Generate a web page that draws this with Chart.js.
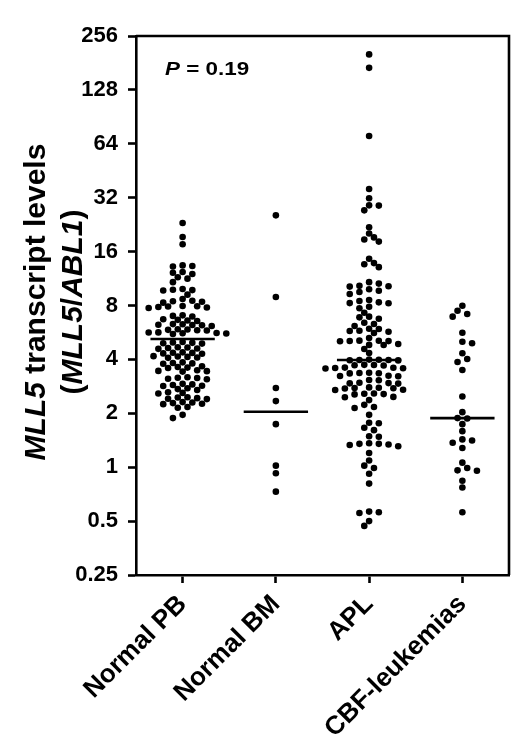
<!DOCTYPE html>
<html>
<head>
<meta charset="utf-8">
<script src="https://cdn.jsdelivr.net/npm/chart.js@4.4.1/dist/chart.umd.min.js"></script>
<style>
  html, body { margin: 0; padding: 0; background: #fff; }
</style>
</head>
<body>
<canvas id="dotplot" width="520" height="754"></canvas>
<script>
// categories and values (MLL5/ABL1 ratio)
const groups = ["Normal PB", "Normal BM", "APL", "CBF-leukemias"];

const normalPB = [
  23.1, 19.3, 17.6,
  13.3, 13.2, 13.4, 12.3, 12.2, 12.0, 11.5, 11.3, 10.8,
  9.8, 9.7, 9.75, 9.9, 9.2, 8.7,
  8.5, 8.4, 8.3, 8.45, 7.9, 7.85, 7.95, 7.8, 7.92, 7.75,
  7.0, 6.95, 7.05, 6.65, 6.6, 6.7, 6.55,
  6.25, 6.2, 6.3, 6.15, 6.22, 6.28,
  5.85, 5.8, 5.9, 5.82, 5.88, 5.62, 5.6, 5.65, 5.58, 5.66, 5.55,
  4.95, 4.9, 5.0, 4.92, 4.97, 4.63, 4.6, 4.66, 4.58, 4.68,
  4.35, 4.32, 4.38, 4.3, 4.36, 4.13, 4.1, 4.15, 4.08, 4.17,
  3.82, 3.8, 3.85, 3.78, 3.63, 3.6, 3.66, 3.58,
  3.45, 3.42, 3.48, 3.44, 3.15, 3.12, 3.18, 3.1, 3.16,
  2.88, 2.85, 2.9, 2.84, 2.92, 2.73, 2.7, 2.76, 2.6, 2.58, 2.62,
  2.43, 2.4, 2.46, 2.41, 2.45, 2.28, 2.26, 2.3, 2.25, 2.31,
  2.17, 2.15, 1.96, 1.88
];

const normalBM = [25.5, 8.93, 2.77, 2.34, 1.74, 1.02, 0.925, 0.73];

const apl = [
  202, 170, 70.8, 35.8, 31.8, 29.0, 28.9, 27.2,
  21.9, 20.2, 19.2, 18.7, 18.2, 14.6, 13.8, 13.6, 13.1,
  10.8, 10.6, 10.3, 10.25, 10.2, 9.86, 9.68, 9.51, 9.27,
  8.59, 8.48, 8.33, 8.23, 8.25, 7.88, 7.72, 7.29, 6.93, 6.87, 6.75,
  6.41, 6.31, 6.15, 5.91, 5.93, 5.76, 5.78, 5.71, 5.62, 5.27,
  5.07, 5.05, 5.09, 5.06, 5.08, 4.88, 4.81, 4.82, 4.57, 4.34,
  3.97, 3.98, 3.96, 3.99, 3.95, 3.97,
  3.72, 3.71, 3.73, 3.70, 3.58, 3.57, 3.59, 3.56, 3.60,
  3.36, 3.35, 3.37, 3.34, 3.23, 3.22, 3.24, 3.07, 3.06,
  2.95, 2.94, 2.96, 2.93, 2.77, 2.76, 2.78, 2.75, 2.79, 2.70, 2.71,
  2.56, 2.55, 2.57, 2.58, 2.47, 2.46, 2.37, 2.23, 2.17, 2.14, 1.96,
  1.77, 1.76, 1.66, 1.61, 1.49, 1.48,
  1.35, 1.34, 1.36, 1.35, 1.33, 1.31, 1.20, 1.09, 1.02, 0.99, 0.92, 0.81,
  0.56, 0.565, 0.555, 0.50, 0.47
];

const cbf = [
  7.98, 7.48, 7.17, 6.93, 5.64, 5.02, 4.92, 4.33, 4.02, 3.87, 3.49,
  2.48, 2.03, 1.88, 1.87, 1.74, 1.59, 1.43, 1.41, 1.37, 1.28,
  1.06, 0.99, 0.96, 0.955, 0.84, 0.77, 0.56
];

const medians = [5.2, 2.04, 3.97, 1.88];
const yTicks = [0.25, 0.5, 1, 2, 4, 8, 16, 32, 64, 128, 256];
const pLabel = "0.19";

const seriesList = [normalPB, normalBM, apl, cbf];
const FONT = '"Liberation Sans", Arial, Helvetica, sans-serif';
const DOT_R = 3.3;
const STEP = 4.85;   // px between candidate swarm positions
const MIN_D = 6.1;   // px minimum distance between dot centres
const HALF_MED = 0.345;

// spread dots of one group sideways so they do not overlap too much
function swarm(values, center, xScale, yScale) {
  const unit = xScale.getPixelForValue(1) - xScale.getPixelForValue(0);
  const order = values.map((v, i) => i).sort((a, b) => values[b] - values[a]);
  const placed = [];
  const out = new Array(values.length);
  let flip = 1;
  order.forEach(i => {
    const py = yScale.getPixelForValue(values[i]);
    let dx = 0;
    for (let n = 0; n < 60; n++) {
      const k = n === 0 ? 0 : Math.ceil(n / 2) * (n % 2 ? flip : -flip);
      dx = k * STEP;
      const ok = placed.every(p => Math.abs(p.y - py) >= MIN_D ||
        (p.x - dx) * (p.x - dx) + (p.y - py) * (p.y - py) >= MIN_D * MIN_D);
      if (ok) break;
    }
    placed.push({ x: dx, y: py });
    flip = -flip;
    out[i] = { x: center + dx / unit, y: values[i] };
  });
  return out;
}

const dotSets = seriesList.map((vals, gi) => ({
  label: groups[gi],
  data: vals.map(v => ({ x: gi, y: v })),
  pointRadius: DOT_R,
  pointHoverRadius: DOT_R,
  pointBackgroundColor: "#000",
  pointBorderWidth: 0,
  borderColor: "#000"
}));

const medianSets = medians.map((m, gi) => ({
  label: groups[gi] + " median",
  data: [{ x: gi - HALF_MED, y: m }, { x: gi + HALF_MED, y: m }],
  showLine: true,
  borderColor: "#000",
  borderWidth: 2.6,
  pointRadius: 0
}));

// top/right frame, axis title and P value
const decorations = {
  id: "decorations",
  afterDraw(chart) {
    const { ctx, chartArea: a } = chart;
    ctx.save();
    ctx.strokeStyle = "#000";
    ctx.lineWidth = 2.6;
    ctx.beginPath();
    ctx.moveTo(a.left, a.top);
    ctx.lineTo(a.right, a.top);
    ctx.lineTo(a.right, a.bottom);
    ctx.stroke();

    ctx.fillStyle = "#000";
    ctx.textBaseline = "alphabetic";
    const measureRuns = (runs, size) => {
      let w = 0;
      runs.forEach(r => {
        ctx.font = (r.it ? "italic " : "") + "bold " + size + "px " + FONT;
        r.w = ctx.measureText(r.t).width;
        w += r.w;
      });
      return w;
    };
    const line1 = [{ t: "MLL5", it: true }, { t: " transcript levels", it: false }];
    const line2 = [{ t: "(", it: false }, { t: "MLL5", it: true }, { t: "/", it: false },
                   { t: "ABL1", it: true }, { t: ")", it: false }];
    const cy = 302;
    [[line1, 45], [line2, 82]].forEach(([runs, bx]) => {
      const w = measureRuns(runs, 30);
      ctx.save();
      ctx.translate(bx, cy);
      ctx.rotate(-Math.PI / 2);
      let x = -w / 2;
      runs.forEach(r => {
        ctx.font = (r.it ? "italic " : "") + "bold 30px " + FONT;
        ctx.fillText(r.t, x, 0);
        x += r.w;
      });
      ctx.restore();
    });

    const pRuns = [{ t: "P", it: true }, { t: " = " + pLabel, it: false }];
    measureRuns(pRuns, 19);
    ctx.save();
    ctx.translate(165, 75);
    ctx.scale(1.18, 1);
    let px = 0;
    pRuns.forEach(r => {
      ctx.font = (r.it ? "italic " : "") + "bold 19px " + FONT;
      ctx.fillText(r.t, px, 0);
      px += r.w;
    });
    ctx.restore();
    ctx.restore();
  }
};

const ctx = document.getElementById("dotplot").getContext("2d");
const chart = new Chart(ctx, {
  type: "scatter",
  data: { datasets: [...dotSets, ...medianSets] },
  options: {
    responsive: false,
    animation: false,
    events: [],
    layout: { padding: { top: 36, right: 11, left: 0, bottom: 0 } },
    plugins: { legend: { display: false }, tooltip: { enabled: false } },
    scales: {
      x: {
        type: "linear",
        min: -0.5,
        max: 3.5,
        afterBuildTicks: s => { s.ticks = groups.map((g, i) => ({ value: i })); },
        afterFit: s => { s.height = 179; },
        ticks: {
          callback: v => groups[v],
          minRotation: 45,
          maxRotation: 45,
          color: "#000",
          padding: 6,
          font: { family: FONT, size: 26, weight: "bold" }
        },
        grid: { drawOnChartArea: false, tickLength: 8, tickWidth: 2.6, tickColor: "#000" },
        border: { color: "#000", width: 2.6 }
      },
      y: {
        type: "logarithmic",
        min: 0.25,
        max: 256,
        afterBuildTicks: s => { s.ticks = yTicks.map(v => ({ value: v })); },
        afterFit: s => { s.width = 136; },
        ticks: {
          callback: v => String(v),
          color: "#000",
          padding: 10,
          font: { family: FONT, size: 22, weight: "bold" }
        },
        grid: { drawOnChartArea: false, tickLength: 8, tickWidth: 2.6, tickColor: "#000" },
        border: { color: "#000", width: 2.6 }
      }
    }
  },
  plugins: [decorations]
});

// lay out the swarms with the real scales, then redraw
seriesList.forEach((vals, gi) => {
  chart.data.datasets[gi].data = swarm(vals, gi, chart.scales.x, chart.scales.y);
});
chart.update("none");
</script>
</body>
</html>
